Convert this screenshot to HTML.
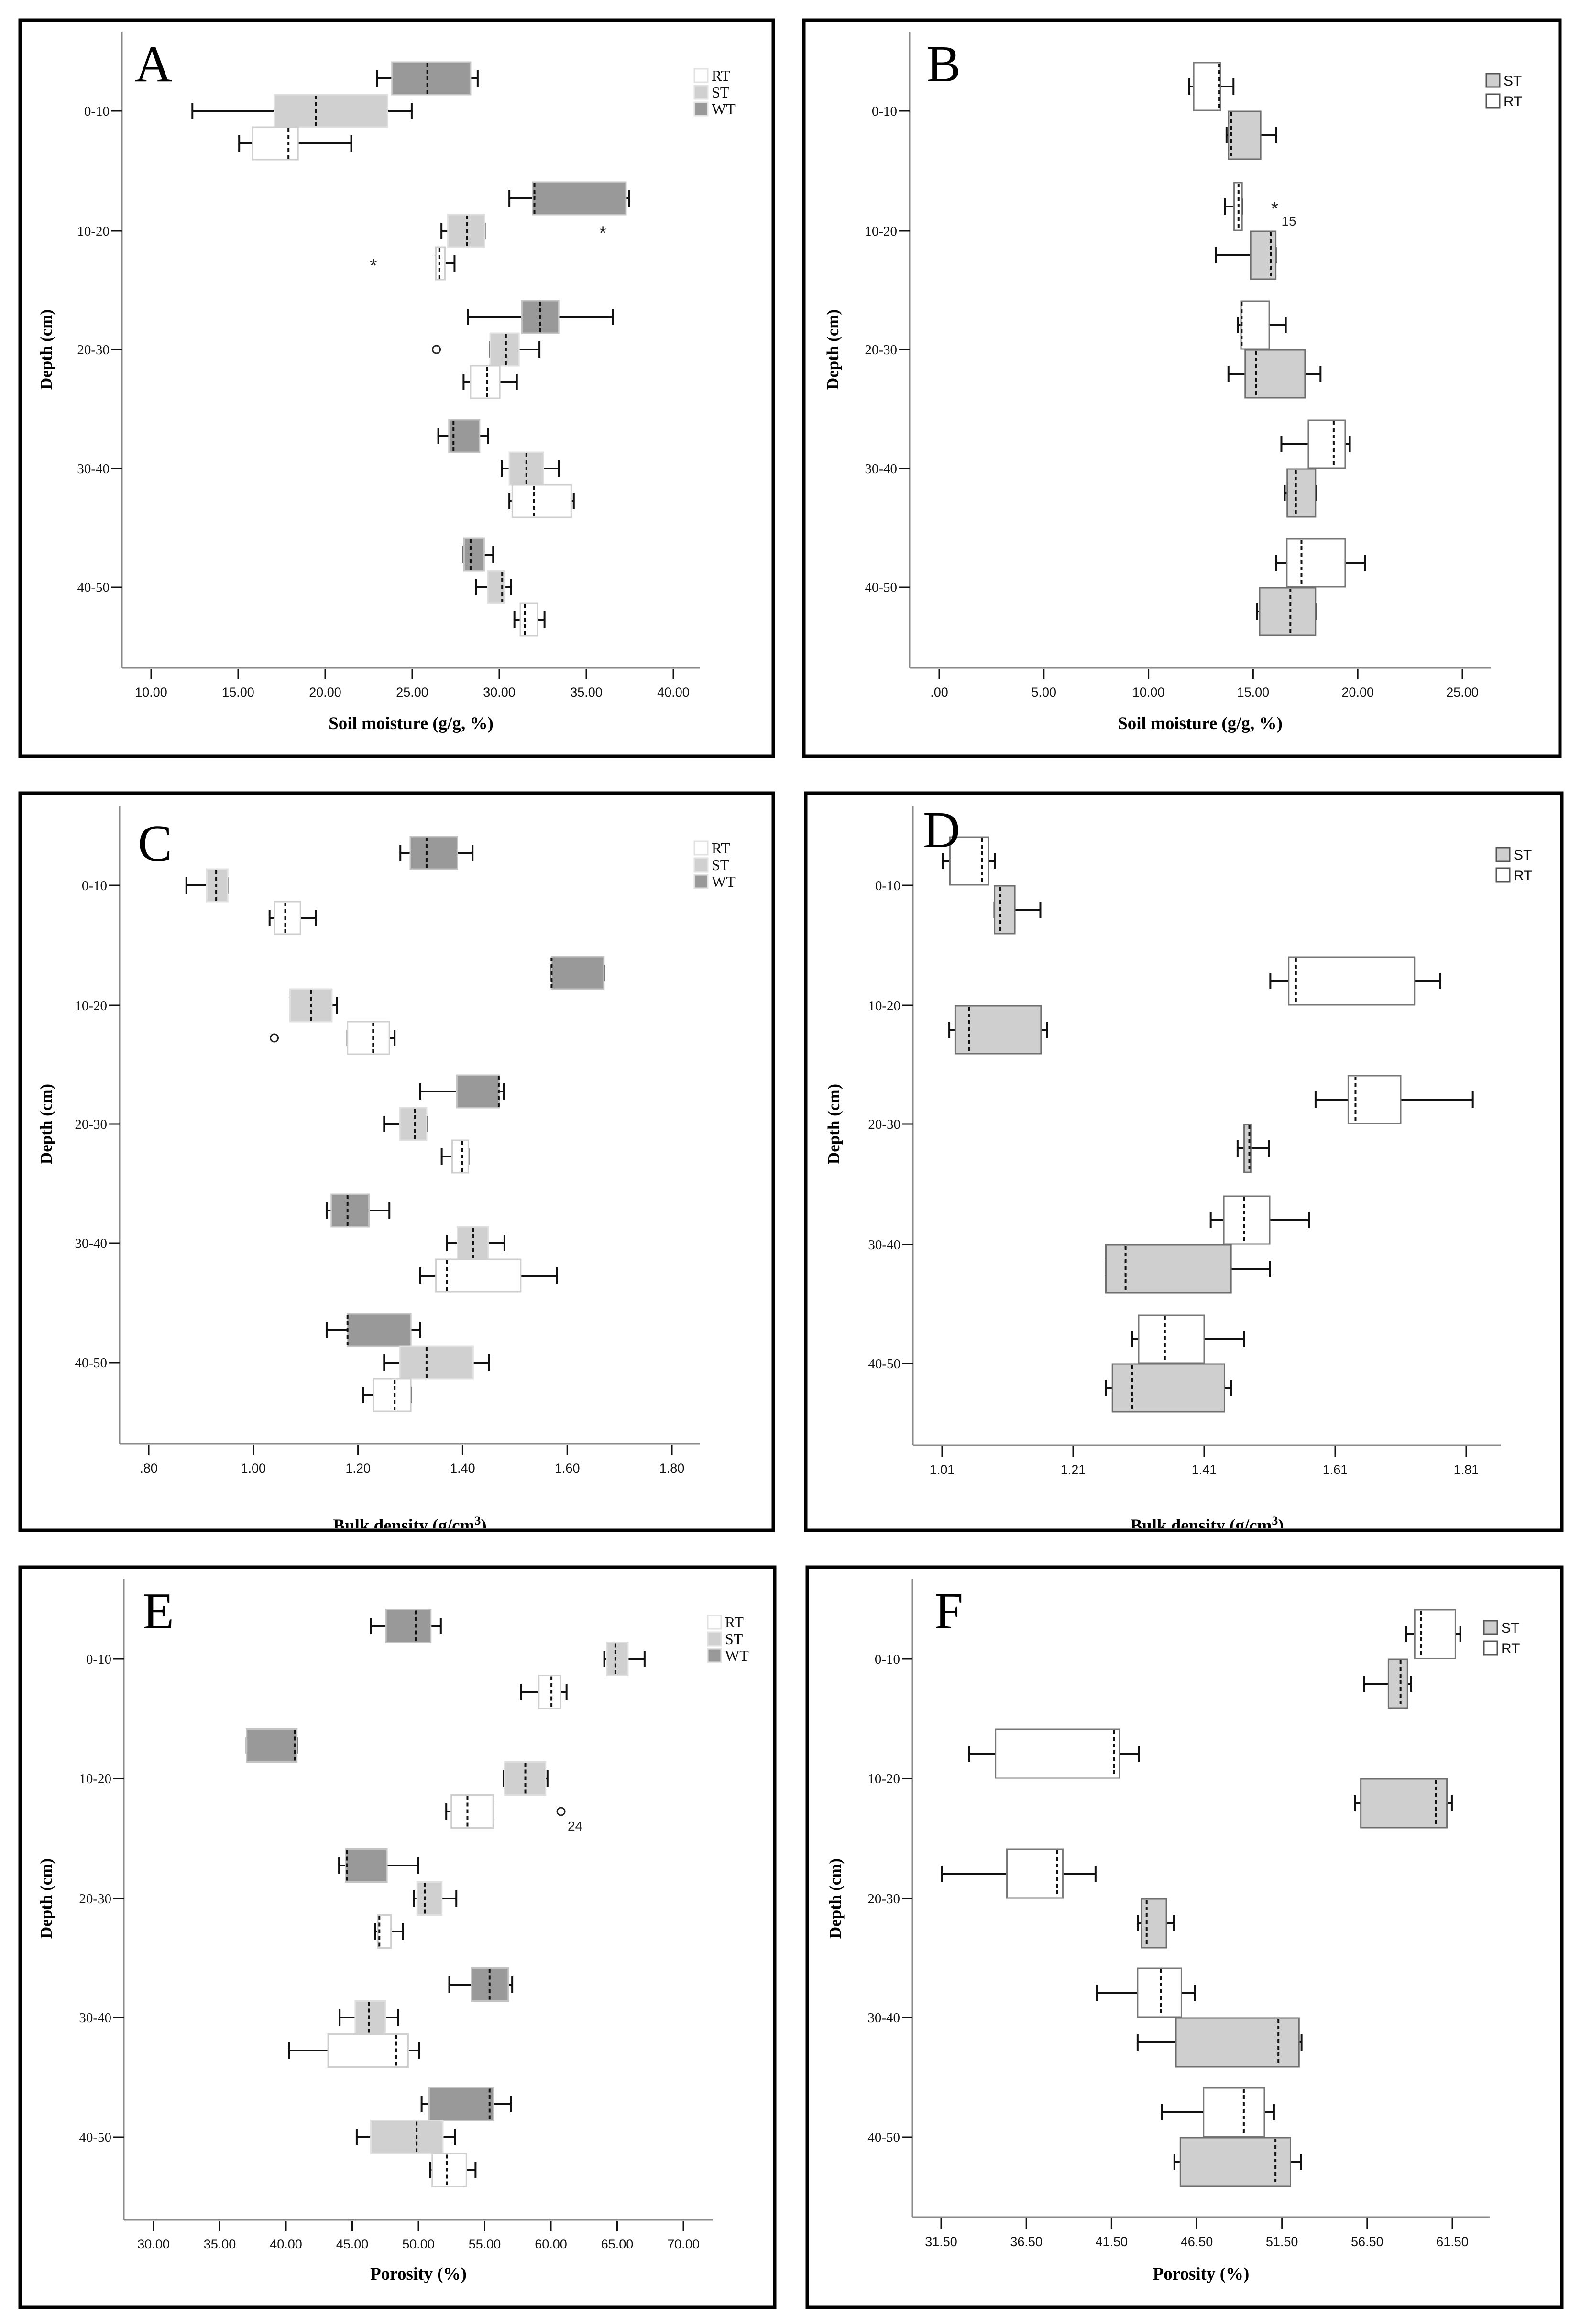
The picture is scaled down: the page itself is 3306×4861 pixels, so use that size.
<!DOCTYPE html>
<html><head><meta charset="utf-8"><style>
html,body{margin:0;padding:0;background:#fff;}
svg{display:block;}
</style></head><body>
<svg id="fig" xmlns="http://www.w3.org/2000/svg" width="3306" height="4861" viewBox="0 0 3306 4861"></svg>
<script>
// ---------- data: [lo, q1, median, q3, hi] per depth ----------
const depths = ["0-10","10-20","20-30","30-40","40-50"];
// Panel A soil moisture (3 tillage)
const aWT = [[22.98,23.84,25.87,28.35,28.76],[30.58,31.91,32.02,37.28,37.46],[28.21,31.30,32.34,33.41,36.53],[26.50,27.11,27.37,28.87,29.36],[27.95,27.98,28.35,29.13,29.65]];
const aST = [[12.37,17.08,19.45,23.58,24.97],[26.68,27.05,28.15,29.16,29.16],[29.48,29.48,30.38,31.13,32.31],[30.14,30.58,31.56,32.54,33.41],[28.67,29.34,30.17,30.32,30.66]];
const aRT = [[15.06,15.84,17.89,18.44,21.50],[26.36,26.36,26.56,26.88,27.43],[27.95,28.35,29.31,30.03,31.01],[30.58,30.75,32.00,34.13,34.28],[30.87,31.21,31.47,32.20,32.60]];
const aTicks = [10,15,20,25,30,35,40];
// Panel B soil moisture (2 tillage)
const bRT = [[11.95,12.16,13.37,13.44,14.06],[13.65,14.09,14.30,14.47,14.47],[14.28,14.42,14.45,15.77,16.56],[16.35,17.64,18.85,19.40,19.62],[16.11,16.61,17.31,19.40,20.34]];
const bST = [[13.73,13.82,13.94,15.36,16.11],[13.22,14.88,15.84,16.08,16.08],[13.82,14.62,15.14,17.48,18.22],[16.51,16.63,17.04,17.98,18.03],[15.19,15.31,16.78,17.98,17.98]];
const bTicks = [0,5,10,15,20,25];
// Panel C bulk density
const cWT = [[1.281,1.300,1.331,1.390,1.419],[1.570,1.570,1.570,1.670,1.670],[1.319,1.389,1.469,1.470,1.479],[1.140,1.149,1.180,1.221,1.260],[1.140,1.180,1.180,1.301,1.319]];
const cST = [[0.872,0.911,0.929,0.951,0.951],[1.070,1.070,1.110,1.150,1.160],[1.250,1.280,1.309,1.331,1.331],[1.370,1.390,1.420,1.449,1.480],[1.250,1.280,1.331,1.420,1.450]];
const cRT = [[1.031,1.040,1.061,1.090,1.119],[1.180,1.180,1.229,1.260,1.270],[1.360,1.380,1.399,1.411,1.411],[1.319,1.349,1.370,1.511,1.580],[1.210,1.230,1.270,1.301,1.301]];
const cTicks = [0.8,1.0,1.2,1.4,1.6,1.8];
// Panel D bulk density
const dRT = [[1.011,1.022,1.071,1.081,1.091],[1.511,1.539,1.550,1.731,1.770],[1.580,1.630,1.641,1.710,1.820],[1.420,1.440,1.471,1.510,1.570],[1.300,1.310,1.350,1.410,1.471]];
const dST = [[1.090,1.090,1.099,1.121,1.160],[1.021,1.030,1.051,1.161,1.170],[1.461,1.471,1.479,1.481,1.509],[1.260,1.260,1.290,1.451,1.510],[1.260,1.270,1.300,1.441,1.451]];
const dTicks = [1.01,1.21,1.41,1.61,1.81];
// Panel E porosity
const eWT = [[46.41,47.55,49.79,50.93,51.69],[37.03,37.03,40.67,40.82,40.82],[44.01,44.51,44.62,47.62,49.98],[52.33,54.00,55.37,56.78,57.08],[50.24,50.81,55.37,55.67,57.00]];
const eST = [[64.03,64.22,64.87,65.81,67.07],[56.43,56.51,58.07,59.59,59.74],[49.67,49.90,50.47,51.76,52.86],[44.05,45.23,46.26,47.51,48.46],[45.34,46.41,49.86,51.84,52.75]];
const eRT = [[57.73,59.09,60.04,60.73,61.18],[52.10,52.48,53.70,55.64,55.64],[46.75,46.94,47.05,47.93,48.84],[40.22,43.18,48.31,49.22,50.05],[50.89,51.04,52.14,53.62,54.31]];
const eTicks = [30,35,40,45,50,55,60,65,70];
// Panel F porosity
const fRT = [[58.79,59.29,59.67,61.68,61.97],[33.15,34.69,41.65,41.97,43.09],[31.53,35.36,38.31,38.64,40.56],[40.64,43.03,44.39,45.60,46.40],[44.45,46.90,49.26,50.47,51.03]];
const fST = [[56.31,57.75,58.46,58.87,59.08],[55.78,56.13,60.53,61.18,61.47],[43.06,43.27,43.56,44.72,45.16],[43.03,45.28,51.29,52.50,52.65],[45.19,45.54,51.12,52.00,52.62]];
const fTicks = [31.5,36.5,41.5,46.5,51.5,56.5,61.5];
// outliers: [series, depthIndex, value, label]
const aOut = [["ST",1,35.95,"*",""],["RT",1,22.77,"*",""],["ST",2,26.39,"o",""]];
const bOut = [["RT",1,16.03,"*","15"]];
const cOut = [["RT",1,1.040,"o",""]];
const eOut = [["RT",1,60.76,"o","24"]];

// ---------- drawing ----------
const NS="http://www.w3.org/2000/svg";
const svg=document.getElementById('fig');
function mk(tag,attrs,parent,text){const e=document.createElementNS(NS,tag);for(const k in attrs)e.setAttribute(k,attrs[k]);if(text!==undefined)e.textContent=text;(parent||svg).appendChild(e);return e;}

const styles3={WT:{fill:"#999999",stroke:"#c4c4c4"},ST:{fill:"#d0d0d0",stroke:"#e0e0e0"},RT:{fill:"#ffffff",stroke:"#cfcfcf"}};
const styles2={ST:{fill:"#cfcfcf",stroke:"#6e6e6e"},RT:{fill:"#ffffff",stroke:"#777777"}};

function panel(p){
  const g=mk('g',{});
  
  
  const clipId='clip'+p.id;
  const defs=mk('defs',{},g);
  const cp=mk('clipPath',{id:clipId},defs);
  mk('rect',{x:p.fx0,y:p.fy0,width:p.fx1-p.fx0,height:p.fy1-p.fy0-4},cp);
  const inner=mk('g',{'clip-path':'url(#'+clipId+')'},g);
  const sx=v=>p.px0+(v-p.v0)*(p.px1-p.px0)/(p.v1-p.v0);
  // axes
  const yAxis=mk('line',{x1:p.ax,y1:p.atop,x2:p.ax,y2:p.ay,stroke:"#8a8a8a","stroke-width":3},inner);
  
  
  const xAxis=mk('line',{x1:p.ax,y1:p.ay,x2:p.aright,y2:p.ay,stroke:"#8a8a8a","stroke-width":3},inner);
  
  
  // x ticks
  p.ticks.forEach(t=>{
    const x=sx(t);
    const tk=mk('line',{x1:x,y1:p.ay+2,x2:x,y2:p.ay+24,stroke:"#111","stroke-width":3},inner);
    
    
    const lb=mk('text',{x:x,y:p.ay+60,'text-anchor':'middle','font-family':'"Liberation Sans",sans-serif','font-size':27,fill:'#111'},inner,p.fmt(t));
    
    
  });
  // y ticks
  p.cats.forEach((cy,i)=>{
    const tk=mk('line',{x1:p.ax-22,y1:cy,x2:p.ax,y2:cy,stroke:"#111","stroke-width":3},inner);
    
    
    const lb=mk('text',{x:p.ax-26,y:cy+10,'text-anchor':'end','font-family':'"Liberation Serif",serif','font-size':29,fill:'#111'},inner,depths[i]);
    
    
  });
  // boxes
  p.series.forEach(s=>{
    s.data.forEach((d,i)=>{
      const cy=p.cats[i]+s.off, h=p.bh, top=cy-h/2;
      const st=p.styles[s.name];
      const bg=mk('g',{},inner);
      
      
      const x0=sx(d[0]),x1=sx(d[1]),xm=sx(d[2]),x3=sx(d[3]),x4=sx(d[4]);
      mk('line',{x1:x0,y1:cy,x2:x1,y2:cy,stroke:'#111','stroke-width':4},bg);
      mk('line',{x1:x3,y1:cy,x2:x4,y2:cy,stroke:'#111','stroke-width':4},bg);
      mk('line',{x1:x0,y1:cy-p.cap,x2:x0,y2:cy+p.cap,stroke:'#111','stroke-width':4},bg);
      mk('line',{x1:x4,y1:cy-p.cap,x2:x4,y2:cy+p.cap,stroke:'#111','stroke-width':4},bg);
      mk('rect',{x:x1,y:top,width:Math.max(x3-x1,1),height:h,fill:st.fill,stroke:st.stroke,'stroke-width':3},bg);
      mk('line',{x1:xm,y1:top+2,x2:xm,y2:top+h-2,stroke:'#111','stroke-width':4,'stroke-dasharray':'8 6'},bg);
    });
  });
  // outliers
  (p.outs||[]).forEach(o=>{
    const s=p.series.find(q=>q.name===o[0]);
    const cy=p.cats[o[1]]+s.off, x=sx(o[2]);
    const og=mk('g',{},inner);
    
    
    if(o[3]==="o") mk('circle',{cx:x,cy:cy,r:8,fill:'none',stroke:'#222','stroke-width':3},og);
    else mk('text',{x:x,y:cy+18,'text-anchor':'middle','font-family':'"Liberation Sans",sans-serif','font-size':40,fill:'#222'},og,'*');
    if(o[4]) mk('text',{x:x+14,y:cy+40,'font-family':'"Liberation Sans",sans-serif','font-size':28,fill:'#222'},og,o[4]);
  });
  // panel letter
  const L=mk('text',{x:p.lx,y:p.ly,'font-family':'"Liberation Serif",serif','font-size':108,fill:'#000'},inner,p.id);
  
  
  // legend
  const lg=mk('g',{},inner);
  
  
  p.legend.forEach((n,k)=>{
    const y=p.ly0+k*p.lstep, st=p.styles[n];
    const e=mk('g',{},lg);
    
    
    mk('rect',{x:p.lgx,y:y-14,width:28,height:28,fill:st.fill,stroke:p.three?'#e2e2e2':'#555','stroke-width':3},e);
    mk('text',{x:p.lgx+36,y:y+11,'font-family':p.three?'"Liberation Serif",serif':'"Liberation Sans",sans-serif','font-size':p.three?32:30,fill:'#111'},e,n);
  });
  // axis titles
  const yt=mk('text',{x:p.ytx,y:p.yty,'text-anchor':'middle','font-family':'"Liberation Serif",serif','font-weight':'bold','font-size':35,fill:'#000',transform:'rotate(-90 '+p.ytx+' '+p.yty+')'},inner,'Depth (cm)');
  
  
  const xt=mk('text',{x:(p.ax+p.aright)/2,y:p.xty,'text-anchor':'middle','font-family':'"Liberation Serif",serif','font-weight':'bold','font-size':37,fill:'#000'},inner);
  
  
  if(p.sup){xt.appendChild(document.createTextNode(p.xtitle));const ts=mk('tspan',{'baseline-shift':'super','font-size':26},xt,'3');xt.appendChild(document.createTextNode(')'));}
  else xt.textContent=p.xtitle;
  // frame
  const fr=mk('rect',{x:p.fx0,y:p.fy0,width:p.fx1-p.fx0,height:p.fy1-p.fy0,fill:'none',stroke:'#000','stroke-width':7},g);
  
  
}
const f2=t=>t.toFixed(2);
const fdot=t=>{const s=t.toFixed(2);return s.startsWith('0')?s.slice(1):s;};
const catsTop=[232,483,731,980,1228], catsMid=[1852,2103,2351,2600,2850], catsMidD=[1852,2103,2351,2603,2852], catsBot=[3470,3720,3971,4220,4470];

panel({id:'A',fx0:42,fx1:1617,fy0:42,fy1:1582,ax:255,ay:1397,atop:66,aright:1464,v0:10,px0:316,v1:40,px1:1408,ticks:aTicks,fmt:f2,cats:catsTop,bh:68,cap:17,styles:styles3,three:true,
  series:[{name:'WT',data:aWT,off:-68},{name:'ST',data:aST,off:0},{name:'RT',data:aRT,off:68}],outs:aOut,
  lx:282,ly:170,legend:['RT','ST','WT'],lgx:1452,ly0:158,lstep:35,ytx:108,yty:731,xty:1525,xtitle:'Soil moisture (g/g, %)'});
panel({id:'B',fx0:1681,fx1:3262,fy0:42,fy1:1582,ax:1902,ay:1397,atop:66,aright:3117,v0:0,px0:1964,v1:25,px1:3058,ticks:bTicks,fmt:fdot,cats:catsTop,bh:100,cap:17,styles:styles2,three:false,
  series:[{name:'RT',data:bRT,off:-51},{name:'ST',data:bST,off:51}],outs:bOut,
  lx:1937,ly:170,legend:['ST','RT'],lgx:3108,ly0:168,lstep:43,ytx:1753,yty:731,xty:1525,xtitle:'Soil moisture (g/g, %)'});
panel({id:'C',fx0:42,fx1:1617,fy0:1659,fy1:3201,ax:250,ay:3020,atop:1686,aright:1464,v0:0.8,px0:311,v1:1.8,px1:1405,ticks:cTicks,fmt:fdot,cats:catsMid,bh:68,cap:17,styles:styles3,three:true,
  series:[{name:'WT',data:cWT,off:-68},{name:'ST',data:cST,off:0},{name:'RT',data:cRT,off:68}],outs:cOut,
  lx:288,ly:1800,legend:['RT','ST','WT'],lgx:1452,ly0:1774,lstep:35,ytx:108,yty:2351,xty:3203,xtitle:'Bulk density (g/cm',sup:true});
panel({id:'D',fx0:1685,fx1:3266,fy0:1659,fy1:3201,ax:1909,ay:3023,atop:1686,aright:3139,v0:1.01,px0:1970,v1:1.81,px1:3066,ticks:dTicks,fmt:f2,cats:catsMidD,bh:100,cap:17,styles:styles2,three:false,
  series:[{name:'RT',data:dRT,off:-51},{name:'ST',data:dST,off:51}],
  lx:1930,ly:1772,legend:['ST','RT'],lgx:3129,ly0:1787,lstep:43,ytx:1755,yty:2351,xty:3203,xtitle:'Bulk density (g/cm',sup:true});
panel({id:'E',fx0:42,fx1:1620,fy0:3278,fy1:4826,ax:259,ay:4643,atop:3302,aright:1491,v0:30,px0:321,v1:70,px1:1429,ticks:eTicks,fmt:f2,cats:catsBot,bh:69,cap:17,styles:styles3,three:true,
  series:[{name:'WT',data:eWT,off:-69},{name:'ST',data:eST,off:0},{name:'RT',data:eRT,off:69}],outs:eOut,
  lx:298,ly:3406,legend:['RT','ST','WT'],lgx:1480,ly0:3393,lstep:35,ytx:108,yty:3971,xty:4768,xtitle:'Porosity (%)'});
panel({id:'F',fx0:1688,fx1:3266,fy0:3278,fy1:4826,ax:1908,ay:4638,atop:3302,aright:3115,v0:31.5,px0:1968,v1:61.5,px1:3037,ticks:fTicks,fmt:f2,cats:catsBot,bh:102,cap:17,styles:styles2,three:false,
  series:[{name:'RT',data:fRT,off:-52},{name:'ST',data:fST,off:52}],
  lx:1954,ly:3406,legend:['ST','RT'],lgx:3103,ly0:3404,lstep:43,ytx:1758,yty:3971,xty:4768,xtitle:'Porosity (%)'});
</script>
</body></html>
